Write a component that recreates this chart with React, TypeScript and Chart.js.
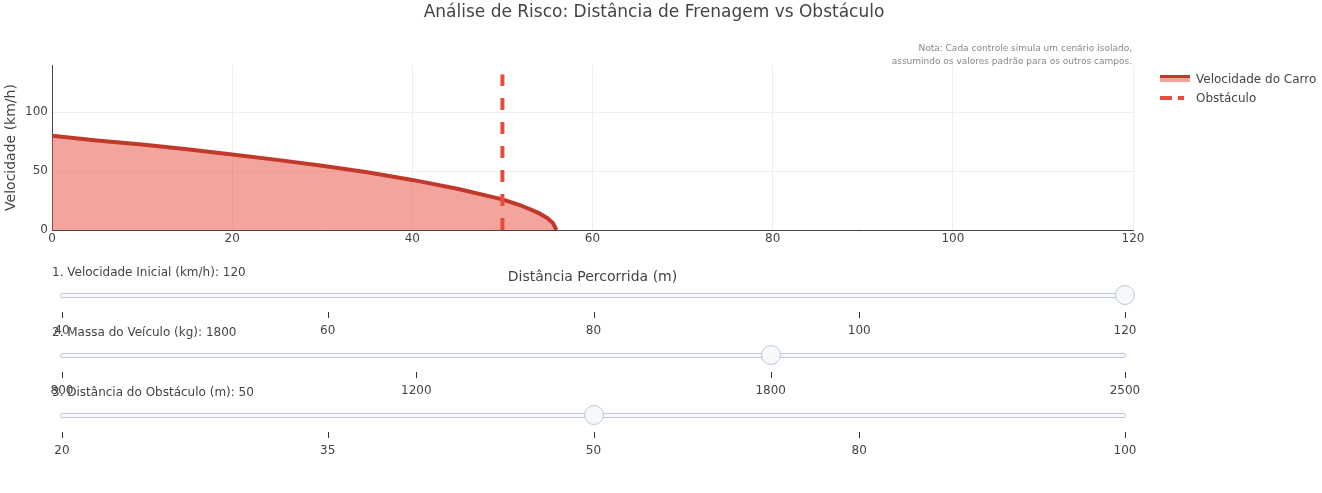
import React, { useEffect, useRef } from "react";
import { Chart, registerables } from "chart.js";

Chart.register(...registerables);

// ---- Data ----
const DISTANCE_M = [0, 5, 10, 15, 20, 25, 30, 35, 40, 45, 50, 52, 54, 55, 55.6, 56];
const SPEED_KMH = [80, 76, 72.5, 68.5, 64, 59.5, 54.5, 49, 42.5, 35, 26, 21, 14.5, 10, 6, 0];

const OBSTACLE_DISTANCE_M = 50;
const OBSTACLE_HEIGHT = [0, 132];

const X_MIN = 0;
const X_MAX = 120;
const X_STEP = 20;
const Y_MIN = 0;
const Y_MAX = 140;
const Y_STEP = 50;

const SPEED_STEPS = [40, 60, 80, 100, 120];
const SPEED_VALUE = 120;
const MASS_STEPS = [800, 1200, 1800, 2500];
const MASS_VALUE = 1800;
const OBSTACLE_STEPS = [20, 35, 50, 80, 100];
const OBSTACLE_VALUE = 50;

const TITLE = "Análise de Risco: Distância de Frenagem vs Obstáculo";
const NOTE_LINES = [
  "Nota: Cada controle simula um cenário isolado,",
  "assumindo os valores padrão para os outros campos.",
];
const SERIES_LABEL = "Velocidade do Carro";
const OBSTACLE_LABEL = "Obstáculo";
const X_TITLE = "Distância Percorrida (m)";
const Y_TITLE = "Velocidade (km/h)";

const FONT = '"DejaVu Sans", verdana, arial, sans-serif';
const TEXT = "#444";

type SliderProps = { center: number; label: string; steps: number[]; value: number };

function Slider({ center, label, steps, value }: SliderProps) {
  const first = 62;
  const last = 1125;
  const xs = steps.map((_, i) => first + (i * (last - first)) / (steps.length - 1));
  const idx = steps.indexOf(value);
  return (
    <>
      <div
        style={{
          position: "absolute",
          left: 52,
          top: center - 23 - 8,
          height: 16,
          lineHeight: "16px",
          fontSize: 12,
          color: TEXT,
          whiteSpace: "nowrap",
        }}
      >
        {label}: {value}
      </div>
      <div
        style={{
          position: "absolute",
          left: 60,
          top: center - 2,
          width: 1066,
          height: 5,
          boxSizing: "border-box",
          border: "1px solid #bec8d9",
          background: "#f8fafc",
          borderRadius: 2,
        }}
      />
      {steps.map((s, i) => (
        <React.Fragment key={s}>
          <div
            style={{
              position: "absolute",
              left: Math.round(xs[i]),
              top: center + 17,
              width: 1,
              height: 6,
              background: "#333",
            }}
          />
          <div
            style={{
              position: "absolute",
              left: xs[i] - 40,
              width: 80,
              top: center + 35 - 8,
              height: 16,
              lineHeight: "16px",
              textAlign: "center",
              fontSize: 12,
              color: TEXT,
            }}
          >
            {s}
          </div>
        </React.Fragment>
      ))}
      <div
        style={{
          position: "absolute",
          left: xs[idx] - 10,
          top: center - 10,
          width: 20,
          height: 20,
          boxSizing: "border-box",
          borderRadius: 10,
          border: "1px solid #bec8d9",
          background: "#f6f8fa",
        }}
      />
    </>
  );
}

export default function App() {
  const canvasRef = useRef<HTMLCanvasElement | null>(null);

  useEffect(() => {
    if (!canvasRef.current) return;
    const chart = new Chart(canvasRef.current, {
      type: "line",
      data: {
        datasets: [
          {
            label: OBSTACLE_LABEL,
            data: OBSTACLE_HEIGHT.map((y) => ({ x: OBSTACLE_DISTANCE_M, y })),
            borderColor: "#e74c3c",
            borderWidth: 4,
            borderDash: [12, 12],
            borderCapStyle: "butt",
            pointRadius: 0,
            fill: false,
            order: 0,
          },
          {
            label: SERIES_LABEL,
            data: DISTANCE_M.map((x, i) => ({ x, y: SPEED_KMH[i] })),
            borderColor: "#c0392b",
            borderWidth: 4,
            backgroundColor: "rgba(231,76,60,0.5)",
            fill: "origin",
            pointRadius: 0,
            tension: 0,
            order: 1,
          },
        ],
      },
      options: {
        animation: false,
        responsive: false,
        maintainAspectRatio: false,
        layout: { padding: { top: 65, left: 0, right: 189, bottom: 207 } },
        plugins: {
          legend: { display: false },
          tooltip: { enabled: false },
          title: { display: false },
        },
        scales: {
          x: {
            type: "linear",
            min: X_MIN,
            max: X_MAX,
            ticks: {
              stepSize: X_STEP,
              color: TEXT,
              font: { family: FONT, size: 12 },
              padding: 2,
              maxRotation: 0,
            },
            grid: { color: "#eeeeee", drawTicks: false },
            border: { display: true, color: "#444", width: 1 },
            title: {
              display: true,
              text: X_TITLE,
              color: TEXT,
              font: { family: FONT, size: 14 },
              padding: { top: 0, bottom: 0 },
            },
            afterFit: (s: any) => {
              s.height = 56;
            },
          },
          y: {
            type: "linear",
            min: Y_MIN,
            max: Y_MAX,
            ticks: {
              stepSize: Y_STEP,
              includeBounds: false,
              color: TEXT,
              font: { family: FONT, size: 12 },
              padding: 4,
            },
            grid: { color: "#eeeeee", drawTicks: false },
            border: { display: true, color: "#444", width: 1 },
            title: {
              display: true,
              text: Y_TITLE,
              color: TEXT,
              font: { family: FONT, size: 14 },
              padding: { top: 3, bottom: 0 },
            },
            afterFit: (s: any) => {
              s.width = 52;
            },
          },
        },
      },
    } as any);
    return () => chart.destroy();
  }, []);

  return (
    <div
      style={{
        position: "absolute",
        left: 0,
        top: 0,
        width: 1322,
        height: 493,
        background: "#fff",
        fontFamily: FONT,
        overflow: "hidden",
      }}
    >
      <canvas ref={canvasRef} width={1322} height={493} style={{ position: "absolute", left: 0, top: 0, display: "block" }} />
      <div
        style={{
          position: "absolute",
          left: 0,
          top: 0,
          width: 1308,
          height: 22,
          lineHeight: "22px",
          textAlign: "center",
          fontSize: 17,
          color: TEXT,
        }}
      >
        {TITLE}
      </div>
      <div
        style={{
          position: "absolute",
          right: 1322 - 1132,
          top: 42,
          textAlign: "right",
          fontSize: 9,
          lineHeight: "13px",
          color: "#888",
          whiteSpace: "nowrap",
        }}
      >
        {NOTE_LINES.map((l) => (
          <div key={l}>{l}</div>
        ))}
      </div>
      {/* Legend */}
      <div style={{ position: "absolute", left: 1160, top: 75, width: 30, height: 3, background: "#c0392b" }} />
      <div style={{ position: "absolute", left: 1160, top: 78, width: 30, height: 4, background: "rgba(231,76,60,0.5)" }} />
      <div
        style={{ position: "absolute", left: 1196, top: 71, height: 16, lineHeight: "16px", fontSize: 12, color: TEXT, whiteSpace: "nowrap" }}
      >
        {SERIES_LABEL}
      </div>
      <div style={{ position: "absolute", left: 1160, top: 96, width: 12, height: 4, background: "#e74c3c" }} />
      <div style={{ position: "absolute", left: 1178, top: 96, width: 6, height: 4, background: "#e74c3c" }} />
      <div
        style={{ position: "absolute", left: 1196, top: 90, height: 16, lineHeight: "16px", fontSize: 12, color: TEXT, whiteSpace: "nowrap" }}
      >
        {OBSTACLE_LABEL}
      </div>
      <Slider center={295} label="1. Velocidade Inicial (km/h)" steps={SPEED_STEPS} value={SPEED_VALUE} />
      <Slider center={355} label="2. Massa do Veículo (kg)" steps={MASS_STEPS} value={MASS_VALUE} />
      <Slider center={415} label="3. Distância do Obstáculo (m)" steps={OBSTACLE_STEPS} value={OBSTACLE_VALUE} />
    </div>
  );
}
